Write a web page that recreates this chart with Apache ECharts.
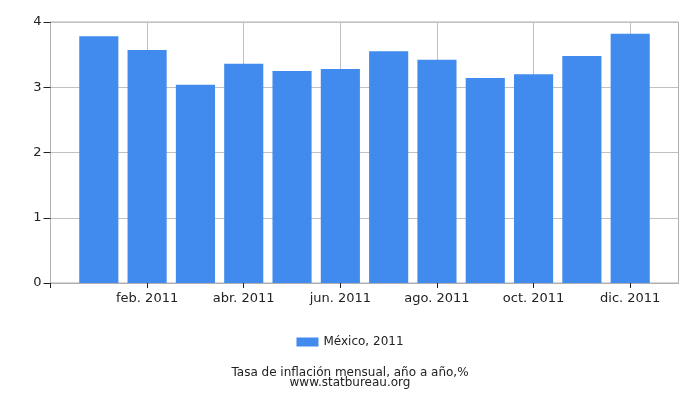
<!DOCTYPE html>
<html>
<head>
<meta charset="utf-8">
<script src="https://cdn.jsdelivr.net/npm/echarts@6/dist/echarts.min.js"></script>
<style>html,body{margin:0;padding:0;background:#fff}#c{width:700px;height:400px}</style>
</head>
<body>
<div id="c"></div>
<script>
const months = ['ene. 2011','feb. 2011','mar. 2011','abr. 2011','may. 2011','jun. 2011','jul. 2011','ago. 2011','sep. 2011','oct. 2011','nov. 2011','dic. 2011'];
const values = [3.78, 3.57, 3.04, 3.36, 3.25, 3.28, 3.55, 3.42, 3.14, 3.20, 3.48, 3.82];
const seriesName = 'México, 2011';
const yTicks = [0, 1, 2, 3, 4];
const titleText = 'Tasa de inflación mensual, año a año,%';
const sourceText = 'www.statbureau.org';

const cats = [''].concat(months, ['']);
const data = [null].concat(values, [null]);
const every2 = (i) => i % 2 === 0 && i < cats.length - 1;
const font = 'DejaVu Sans';

const chart = echarts.init(document.getElementById('c'), null, {renderer: 'canvas'});
chart.setOption({
  animation: false,
  backgroundColor: '#fff',
  textStyle: {fontFamily: font},
  grid: {left: 50.5, right: 21.5, top: 22, bottom: 117, containLabel: false,
         show: true, borderColor: '#b0b0b0', borderWidth: 1},
  title: {
    text: titleText, subtext: sourceText, left: 'center', top: 362,
    itemGap: -2,
    textStyle: {fontFamily: font, fontSize: 12, fontWeight: 'normal', color: '#222'},
    subtextStyle: {fontFamily: font, fontSize: 12, color: '#222'}
  },
  legend: {
    data: [seriesName], top: 331, left: 'center', itemWidth: 22, itemHeight: 9, itemGap: 5,
    icon: 'rect',
    textStyle: {fontFamily: font, fontSize: 12, color: '#222'}
  },
  xAxis: {
    type: 'category', data: cats, boundaryGap: false,
    axisLine: {lineStyle: {color: '#b0b0b0'}},
    axisTick: {interval: every2, length: 5, lineStyle: {color: '#222'}},
    axisLabel: {interval: every2, fontSize: 13, color: '#222', margin: 9, fontFamily: font},
    splitLine: {show: true, interval: every2, lineStyle: {color: '#c0c0c0'}}
  },
  yAxis: {
    type: 'value', min: yTicks[0], max: yTicks[yTicks.length - 1], interval: 1,
    axisLine: {show: true, lineStyle: {color: '#b0b0b0'}},
    axisTick: {show: true, length: 7, lineStyle: {color: '#222'}},
    axisLabel: {fontSize: 13, color: '#222', margin: 9, fontFamily: font},
    splitLine: {show: true, lineStyle: {color: '#c0c0c0'}}
  },
  series: [{
    name: seriesName, type: 'bar', data: data, barWidth: '81%',
    itemStyle: {color: '#418bee'}
  }]
});
</script>
</body>
</html>
